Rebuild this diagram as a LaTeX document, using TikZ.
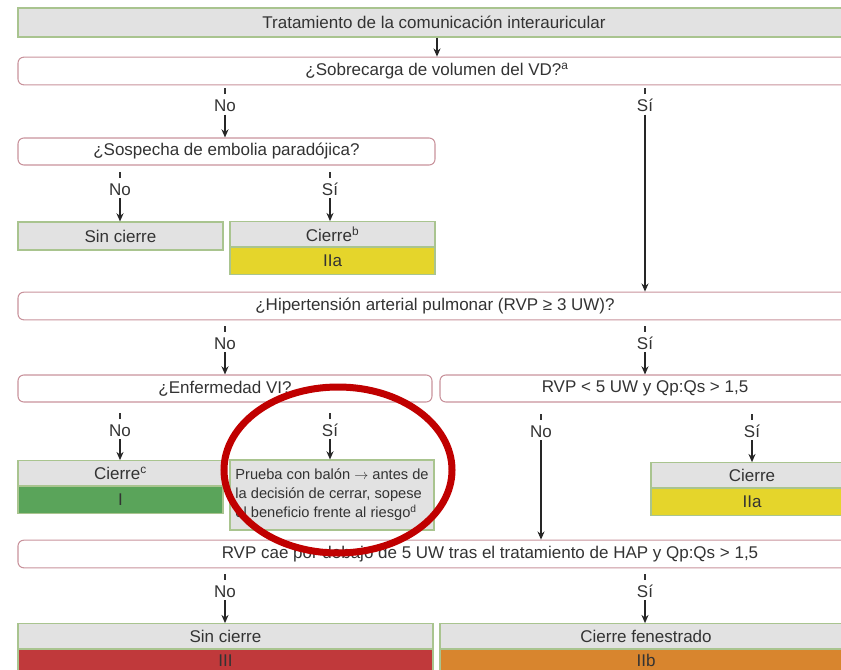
\documentclass[tikz,border=0pt]{standalone}
\usepackage{fontspec}
\setmainfont{Liberation Sans}
\usetikzlibrary{arrows.meta,positioning}
\definecolor{boxgray}{HTML}{E2E2E2}
\definecolor{boxgreen}{HTML}{A9C48F}
\definecolor{qrose}{HTML}{C9939C}
\definecolor{iiayellow}{HTML}{E5D52B}
\definecolor{igreen}{HTML}{5AA45A}
\definecolor{iiired}{HTML}{C0393B}
\definecolor{iiborange}{HTML}{D8852E}
\definecolor{markred}{HTML}{C00000}
\definecolor{txt}{HTML}{333333}
\newcommand{\tikzResultNode}[6]{
  \node[result,minimum width=#3] (#1) at (#2) {#4};
  \node[band,fill=#5,minimum width=#3,below=0pt of #1] (#1band) {#6};
}
\newcommand{\tikzAnswerNode}[3]{
  \node[answer] (#1) at (#2) {#3};
  \path[draw,tick] ([yshift=2pt]#1.north) -- ++(0,-6);
}

\begin{document}
\begin{tikzpicture}[x=0.03cm, y=-0.03cm, text=txt,
  font=\fontsize{14.5}{17}\selectfont,
  question/.style={draw=qrose,fill=white,rounded corners=5pt,line width=0.9pt,minimum height=0.83cm,inner sep=0pt},
  result/.style={draw=boxgreen,fill=boxgray,line width=0.9pt,minimum height=0.74cm,inner sep=0pt},
  band/.style={draw=boxgreen,line width=0.9pt,minimum height=0.8cm,inner sep=0pt},
  answer/.style={inner sep=2pt,text height=11pt,text depth=0pt},
  tick/.style={line width=1pt,black!80},
  arr/.style={-{Stealth[length=7pt,width=6pt]},line width=1pt,black!85}]
  \clip (0,0) rectangle (841,669);

  \node[result,minimum width=24.96cm,minimum height=0.87cm] (start) at (434,22.5) {Tratamiento de la comunicación interauricular};
  \node[question,minimum width=25.14cm] (q1) at (437,71) {¿Sobrecarga de volumen del VD?\textsuperscript{a}};
  \draw[arr] (q1.north |- start.south) -- (q1.north);

  \tikzAnswerNode{q1no}{225,105.5}{No}
  \tikzAnswerNode{q1si}{645,105.5}{Sí}

  \node[question,minimum width=12.51cm,minimum height=0.81cm] (q2) at (226.5,151.5) {¿Sospecha de embolia paradójica?\hspace{0.5cm}};
  \path[draw,arr] (q1no) -- (q1no |- q2.north);

  \tikzAnswerNode{q2no}{120,189}{No}
  \tikzAnswerNode{q2si}{330,189}{Sí}

  \node[result,minimum width=6.15cm,minimum height=0.84cm] (sina) at (120.5,236) {Sin cierre};
  \tikzResultNode{cierreb}{332.5,234}{6.15cm}{Cierre\textsuperscript{b}}{iiayellow}{IIa}
  \path[draw,arr] (q2no) -- (q2no |- sina.north);
  \path[draw,arr] (q2si) -- (q2si |- cierreb.north);

  \node[question,minimum width=25.02cm] (q3) at (435,306) {¿Hipertensión arterial pulmonar (RVP ≥ 3 UW)?};
  \path[draw,arr] (q1si) -- (q1si |- q3.north);

  \tikzAnswerNode{q3no}{225,343}{No}
  \tikzAnswerNode{q3si}{645,343}{Sí}

  \node[question,minimum width=12.42cm,minimum height=0.81cm] (q4l) at (225,388.5) {¿Enfermedad VI?};
  \node[question,minimum width=12.3cm,minimum height=0.81cm] (q4r) at (645,388.5) {RVP < 5 UW y Qp:Qs > 1,5};
  \path[draw,arr] (q3no) -- (q3no |- q4l.north);
  \path[draw,arr] (q3si) -- (q3si |- q4r.north);

  \tikzAnswerNode{q4lno}{120,430}{No}
  \tikzAnswerNode{q4lsi}{330,430}{Sí}
  \tikzAnswerNode{q4rno}{541,431}{No}
  \tikzAnswerNode{q4rsi}{752,431}{Sí}

  \tikzResultNode{cierrec}{120.5,473}{6.15cm}{Cierre\textsuperscript{c}}{igreen}{I}
  \node[result,minimum width=6.12cm,minimum height=2.1cm,align=left,font=\fontsize{12.5}{16.2}\selectfont] (balloon) at (332,495)
    {Prueba con balón $\rightarrow$ antes de\\la decisión de cerrar, sopese\\el beneficio frente al riesgo\textsuperscript{d}};
  \tikzResultNode{cierrer}{752,475}{6.06cm}{Cierre}{iiayellow}{IIa}
  \path[draw,arr] (q4lno) -- (q4lno |- cierrec.north);
  \path[draw,arr] (q4lsi) -- (q4lsi |- balloon.north);
  \path[draw,arr] (q4rsi) -- (q4rsi |- cierrer.north);

  \node[question,minimum width=28.32cm] (q5) at (490,554) {RVP cae por debajo de 5 UW tras el tratamiento de HAP y Qp:Qs > 1,5};
  \path[draw,arr] (q4rno) -- (q4rno |- q5.north);

  \tikzAnswerNode{q5no}{225,591}{No}
  \tikzAnswerNode{q5si}{645,591}{Sí}

  \begin{scope}[band/.append style={minimum height=0.66cm}]
    \tikzResultNode{sinb}{225.5,636}{12.45cm}{Sin cierre}{iiired}{III}
    \tikzResultNode{fenest}{646,636}{12.36cm}{Cierre fenestrado}{iiborange}{IIb}
  \end{scope}
  \path[draw,arr] (q5no) -- (q5no |- sinb.north);
  \path[draw,arr] (q5si) -- (q5si |- fenest.north);

  \draw[markred,line width=0.21cm] (338,470) ellipse [x radius=3.42cm, y radius=2.49cm];
\end{tikzpicture}
\end{document}
